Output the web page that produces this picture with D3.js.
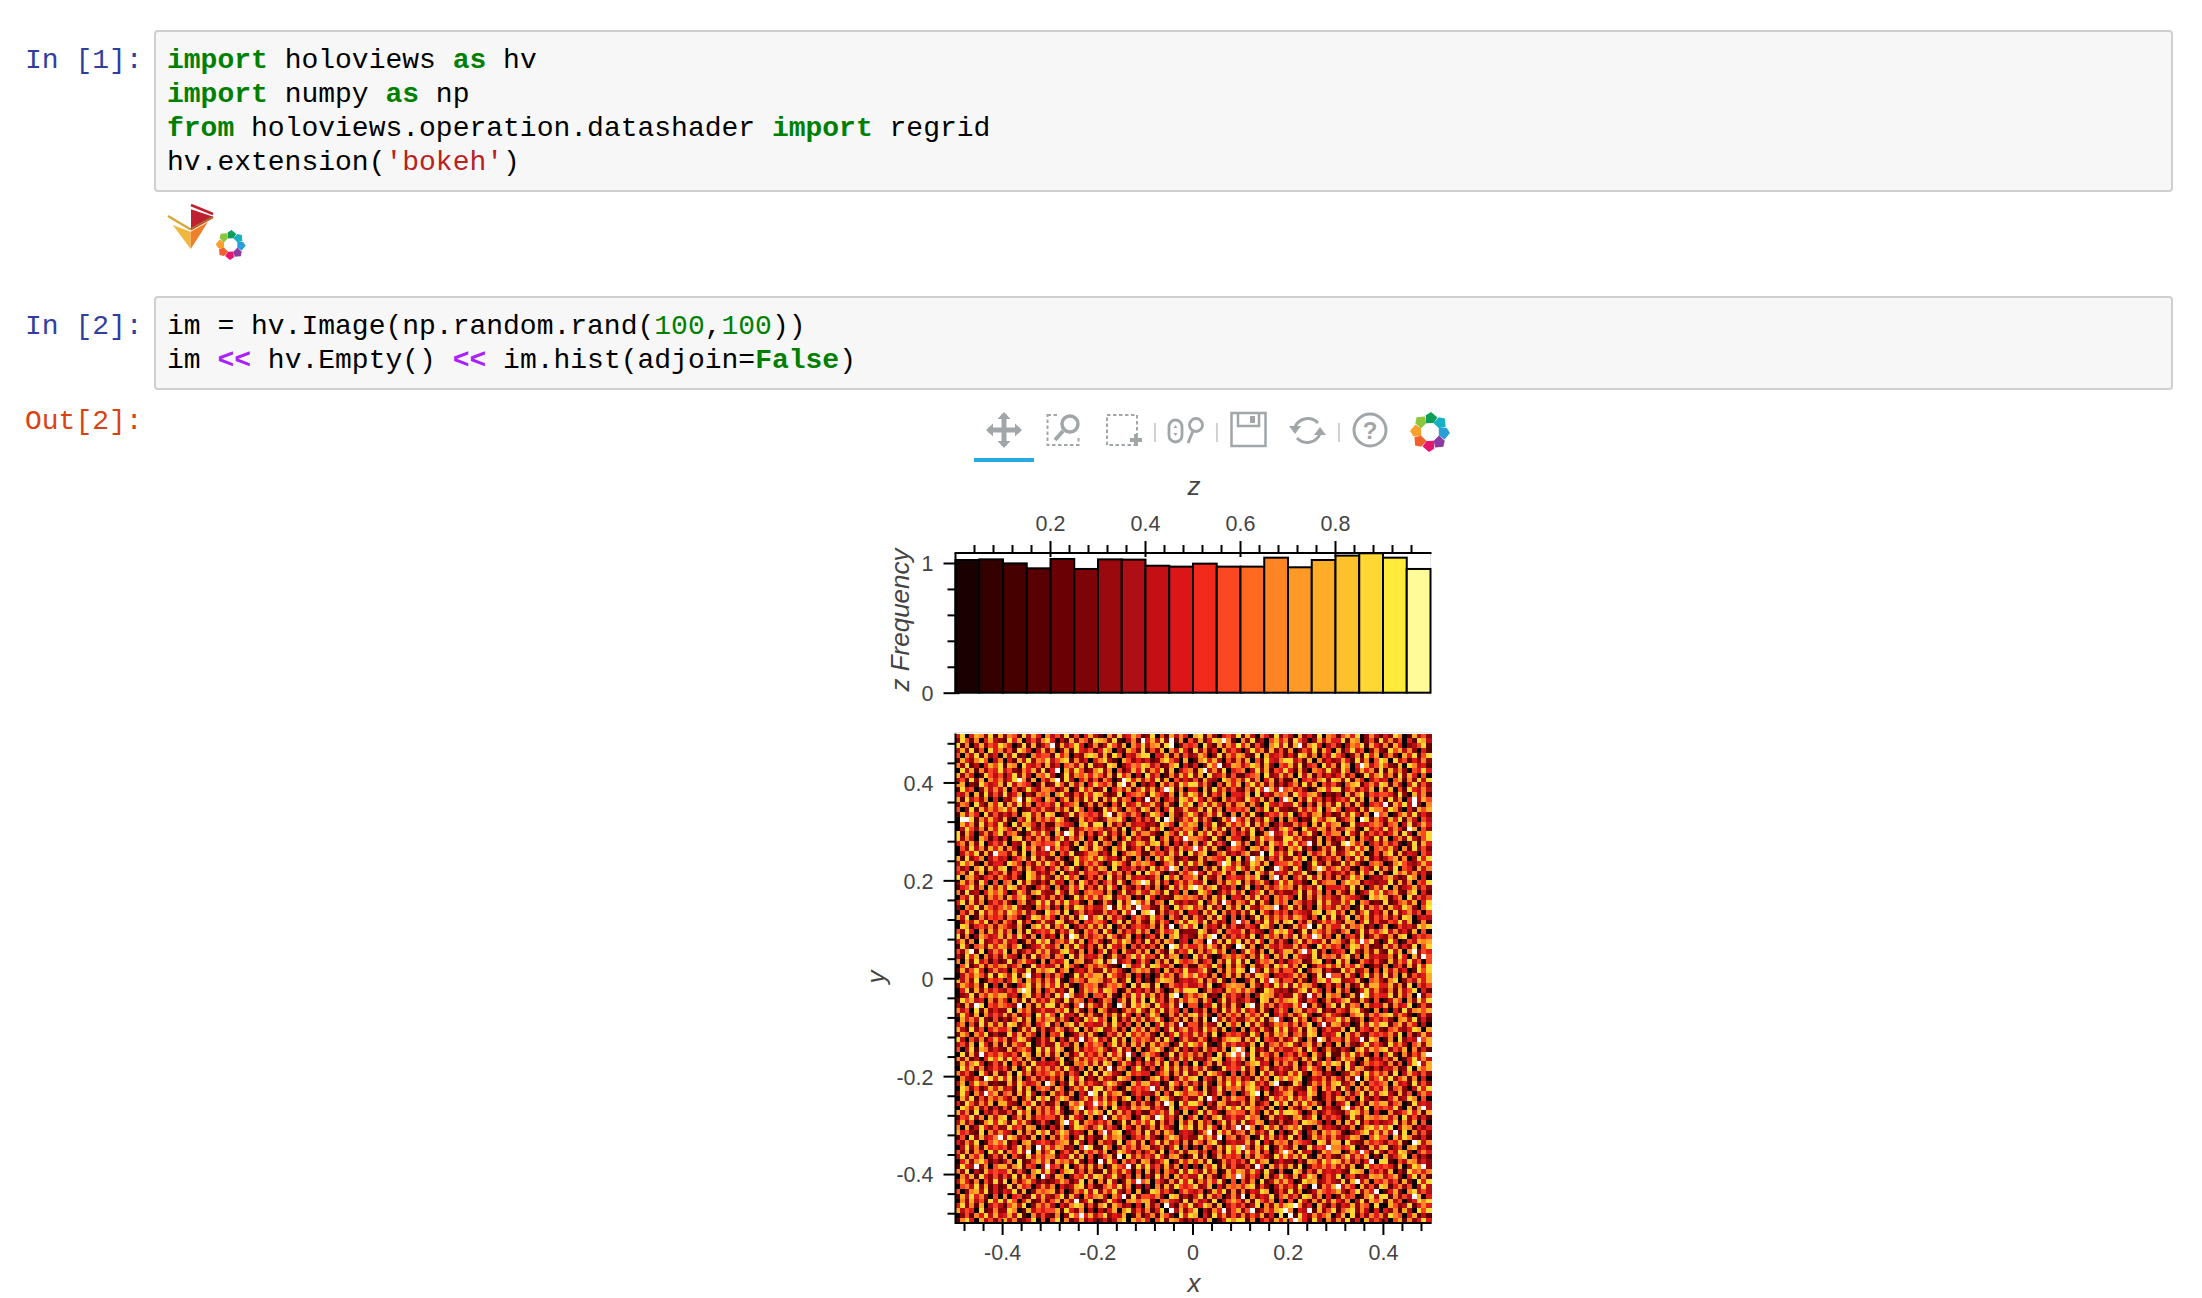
<!DOCTYPE html>
<html>
<head>
<meta charset="utf-8">
<script src="https://cdn.jsdelivr.net/npm/d3@7"></script>
<style>
html,body{margin:0;padding:0;background:#fff;}
svg{display:block;position:absolute;left:0;top:0;}
.code{font-family:"Liberation Mono",monospace;font-size:28px;white-space:pre;}
.tick-label,.axis text{font-family:"Liberation Sans",Arial,sans-serif;font-size:21.5px;fill:#444;}
.ax-label{font-family:"Liberation Sans",Arial,sans-serif;font-style:italic;font-size:26px;fill:#444;}
</style>
</head>
<body>
<svg id="c" width="2202" height="1298" viewBox="0 0 2202 1298"></svg>
<script>
// ---------- notebook text ----------
const promptLabels = [["In [1]:", "#303F9F", 68], ["In [2]:", "#303F9F", 334], ["Out[2]:", "#D84315", 429]];
const cell1Lines = [
  [["import","k"],[" holoviews ",""],["as","k"],[" hv",""]],
  [["import","k"],[" numpy ",""],["as","k"],[" np",""]],
  [["from","k"],[" holoviews.operation.datashader ",""],["import","k"],[" regrid",""]],
  [["hv.extension(",""],["'bokeh'","s"],[")",""]]
];
const cell2Lines = [
  [["im = hv.Image(np.random.rand(",""],["100","n"],[",",""],["100","n"],["))",""]],
  [["im ",""],["<<","o"],[" hv.Empty() ",""],["<<","o"],[" im.hist(adjoin=",""],["False","k"],[")",""]]
];

// ---------- histogram ----------
const histCounts = [1.023,1.028,0.997,0.959,1.031,0.954,1.028,1.026,0.979,0.972,0.995,0.972,0.972,1.041,0.967,1.023,1.057,1.075,1.041,0.954];
const histEdges = d3.range(21).map(i => i / 20);
const histColors = ["#1b0000","#340000","#470000","#590002","#6b0004","#7e0306","#9a090d","#ae0f14","#c41014","#dc1518","#f12a1c","#fb4722","#ff6a20","#ff8524","#ff9a26","#ffad27","#ffc12b","#ffd732","#ffeb38","#fffb99"];
const zMajorTicks = [0.2,0.4,0.6,0.8];
const zMinorTicks = [0.04,0.08,0.12,0.16,0.24,0.28,0.32,0.36,0.44,0.48,0.52,0.56,0.64,0.68,0.72,0.76,0.84,0.88,0.92,0.96];
const freqMajorTicks = [0,1];
const freqMinorTicks = [0.2,0.4,0.6,0.8];
const xyMajorTicks = [-0.4,-0.2,0,0.2,0.4];
const xyMinorTicks = [-0.48,-0.44,-0.36,-0.32,-0.28,-0.24,-0.16,-0.12,-0.08,-0.04,0.04,0.08,0.12,0.16,0.24,0.28,0.32,0.36,0.44,0.48];

// ---------- image levels, 0 (black) .. a (white) ----------
// Approximation, typed by hand: white cells sit roughly where the zooms show them;
// the other cells follow the general look and are not a cell-by-cell reading.
const imageLevelColors = ["#0c0000","#5e0000","#8e0608","#b80f13","#e01a18","#fb4722","#ff8524","#ffad27","#ffd732","#ffeb38","#ffffff"];
const imageRows = [
"4804762817 2651837406 3528150473 1062834751 2805173640 7816204538 1730641825 3072418065 1574802631 4286017352",
"2851604732 1847035268 4031726518 762810361a 47382a1605 271487a610 6281305746 1853027364 4817602518 3625041873",
"8160372548 6402817135 a173584026 1385270648 36718a0254 5083172649 4715206838 17a2684035 2036581742 6174023581",
"3728150846 2518640372 6027184351 4860317528 1527063841 8261407353 0384617251 6025381740 7148350262 1857362041",
"5063817240 7381206455 1846032787 2718504368 8043716152 3750281647 6218073451 4187260538 5302618470 3620748158",
"1742685036 0417382658 3578162404 6831075242 4126853070 1684730526 2705184368 8351706242 3741826059 7083514262",
"6281304758 1760843517 2405637182 3187024658 7351268041 40285a1376 3586172054 7281450836 18604a7358 5217086341",
"0837162548 3521647281 4a07385126 8260513748 2648170356 17a3628045 6038271548 4172065383 2850374618 1736205484",
"7264018535 1482730658 3018265747 5271846030 8350162748 2708346151 1456082373 6083715242 4725018368 3618274050",
"3518270646 248a617053 7a18304625 16402a8473 6381705242 5173208646 3826047151 1704536828 7281640353 4057162838",
"6702185347 1836540271 2851736048 54618a2703 1407362858 8362051747 0583726141 4618270535 2057814638 7163048252",
"1845027363 7051384266 5137028461 2804637158 3725a81604 4071836252 16284a73a5 6352017848 8146253707 2705184363",
"4360718252 8247031656 0683152748 7312804565 1854260738 6281537044 3708142656 1854673021 3072681545 5418207361",
"7183526040 326a185407 5047162838 1738265041 a260351874 8416207353 285371604a 7062835141 4538270616 182604a375",
"2650831748 1738260545 3814570261 6205183473 4731620858 0583741626 7162084353 3840517262 8261730454 a17483a206",
"5028173646 8470125363 2637185040 1847306528 6150482373 3718260545 4605381722 1273648058 5034172866 3862041757",
"1736408252 4250783618 7013826545 28a1753640 3864072158 5147382060 6281035474 8035267141 27384160a5 6015738242",
"0aa8163742 7105382646 4862017353 1376840252 5280a71364 82630174a5 3715284060 6402185378 13570a8264 2748163053",
"0746182538 3082764151 1654307828 8072516344 2318640757 6053812746 4817360252 2635071846 7018243565 1560382474",
"0385261748 6417083252 3801724656 5236180473 1748025366 4062738151 7381504268 5108437626 2476108353 83641a7052",
"8174036258 2561037484 073a826151 4825160736 6310752848 1748263053 528016a347 3715820646 6084172535 2471830658",
"8263075141 4078152636 1582637040 7316048252 28047153a6 6531820744 0173856228 8462317051 3517064282 7046283158",
"4617280353 7032816545 5824170638 1650382476 3782604151 71482530a6 2603718548 4835a17062 18a7460352 6351028174",
"0528361747 163084725a 3745108628 6207481351 8150362745 a482710365 3076258141 7581402638 1263847056 4730618252",
"03648172a5 5271806343 7053812466 2418036751 1645273808 3680157242 5712a08463 8140635727 2368470151 6817243053",
"7182460353 4035718262 1620384574 8534172060 5073861241 1726543808 04a6815372 2748061353 6052837141 3571602848",
"3857106244 1864052738 5271083646 3028641757 6401572838 472015a836 1386270455 7450283161 2837410565 0168532474",
"5240681737 8036172451 4715820363 7608143525 18364a7052 3062718548 5274801a63 184026a735 7351064282 6280541736",
"4618270353 7153086242 6081427355 2473615080 8572031646 a417358260 1608527343 7348106252 3526184707 1085736241",
"8067314526 4251086373 1738460252 6082517344 2360847155 7183260454 3758106a26 0462837151 6148570232 5731286040",
"2736184050 5608273141 7340618525 146283057a 8271504636 4380162758 1625730484 7341082566 0586714323 3817260548",
"1458260737 3872510464 0613748252 7284063151 5160283748 a736814250 2804163575 6173528044 4528170363 8061347252",
"6182304757 4027516832 2841730565 5160382474 3752814060 1864025373 7035816242 2481736050 6317024858 3572168041",
"0538271646 1746830252 6250183747 3781546020 8403217656 5261738044 1738250646 4081627353 2754310868 7146082535",
"4817260353 6205713848 2738451060 1630826a74 7156083242 380472a516 5281730646 0652418373 3748065121 8125637048",
"2064817535 7583120646 1406287353 36a18472a5 5217308468 4618250737 0832576a14 8261407353 7350182646 1743862059",
"0527183646 3864725108 5718036242 2635184a07 8a16253704 4173806252 6280741535 1543278068 3607158242 7182463505",
"7380162545 1652038747 4062718a36 8173520464 2845063171 6317284050 5028173646 3764150828 1480637253 6251870343",
"0263748151 6418250373 2871360546 5304817262 1726405838 738162405a 4605283717 8052713646 3176048252 2548370161",
"0871453626 5327106848 1648025373 7280361454 36172a0584 8063417252 2541873060 1735a08264 4826571303 7015342868",
"5284061737 3607182454 7153820646 1840625373 6037458122 2861370544 7153204868 4028175363 1570382646 8362417050",
"8160275347 2738416052 4071a82635 6285137040 3517068242 1748a06253 5280374616 38164a7250 7045281363 2617803545",
"4716082353 7340162858 1563827046 3027486151 8261750340 650a271848 1738406252 0582643717 63174a5820 2840153767",
"1830562747 6258013474 3607284151 7184360525 25170a8364 463851720a 8160274353 3725108464 5048736121 7361428058",
"527a180364 8061352747 2378416050 4815073262 7063182548 1625847030 3851607247 726a481503 4508316272 183706a254",
"3184706252 7430618256 1650827343 6027315848 4518267030 8372015646 5162840737 0743281656 2681507343 36184072a5",
"6072835141 2815743060 5348067126 817a245036 3062718545 7145062838 2803657141 4561278030 8370164252 1726483505",
"0581372646 7246018353 3718520464 65210a7348 2874360151 1653840727 4072361858 3618025474 7264850131 6035172848",
"1725840363 4063281757 8157034262 2836410575 6140725383 3582061748 70a4183625 5280367141 1847236050 7362401858",
"0364752818 63817a2405 2640183757 7185326040 3027461585 8451603727 1628750343 47360281a5 5173048262 8260715347",
"7362801545 1485073626 3810465277 6247138050 2058761343 4716382050 037184a625 5162037848 8234710563 1680253747",
"2753618040 6104582737 4827103656 1365740828 7180264353 3528014676 6073152848 2847630151 5061382774 4726180535",
"0481726353 2537a81604 6241803757 3875016242 5163027488 8026341757 4750186323 1368274050 7250148363 2617358041",
"0238164757 7340682515 184a723605 5271063848 372518a046 4681207353 1503876242 2841a36075 60271a8354 4817360a25",
"1857340626 4062817353 7318265040 2650471838 0835162747 6174038252 3520871646 7831540262 4682173050 1375062848",
"3172a80546 542a061738 816305a274 2730a61858 6184372a05 5043816272 08a1736254 374a162058 1826507343 7163480252",
"6350817242 2807461353 3648172050 7512036484 1738264050 4260518373 8351720464 0672548131 5427831060 3041826757",
"2841706353 7261350848 5083417262 1637284050 4850162737 8372051646 1746280353 6258301474 3105782646 7836410252",
"0746382151 3158270646 7263041858 4608152737 2584036171 6180a37252 2573816a40 1836047255 8471260353 5206738141",
"4605182737 2871360458 1506827343 3728415060 7048362a15 5163280747 0827413656 3615804a27 6240173858 8157264030",
"7318250464 4602738151 3751480626 8236150747 1640382573 5284617030 6052731848 2471860353 3708154262 1563248707",
"2750648131 1837264050 5480136272 0153728464 6207148353 7361802545 3184062757 1562870434 8073621545 4628051373",
"8305261474 6148730252 704163a258 3518270646 5271840363 2640315787 1738054262 483061a725 52734a1860 1608243a57",
"3527084161 7164380252 2835170646 5048261737 1736502848 6481027353 4270815636 8315726040 7062148353 1846305727",
"5038176242 1725640838 3860172545 7413825060 2685037141 417352608a 6082417353 3571840262 1420683757 8253706141",
"08172a3546 4351860727 2706148353 618472a305 7530281646 36140827a5 a381752604 5264073181 1748362050 482061537a",
"6271304858 3846172050 1580273646 4627518030 8164052737 2315870464 7083261545 6417382050 3856107242 5270148363",
"1736840252 7052618343 4281065737 2860374151 5372816040 8046172353 1578340626 3702614858 7183026454 2615048a37",
"0847261353 5170382646 3628415070 72a1650483 1504837262 6372018454 8260471353 2714853060 5083762141 4361280757",
"6352084171 2708361545 7461530828 1863207454 4035716282 3718642050 5160837242 7482065131 0237518464 6180374252",
"063251a848 4817036252 5260748131 7341865020 1682503747 8053172646 2417360858 5780143626 4162a07358 3825716040",
"3704856121 172853460a 6041827353 2586310747 7340185262 5172063848 4683527a10 1850264737 8236071545 6073418252",
"0862513747 3418270565 1750364828 8263017454 5a36172048 4071382656 2785140363 6321850747 1840627353 7156203848",
"284063a571 5617283040 73516042a8 1846720353 3270518646 6481372050 258a071346 7143860252 4062581737 8317250464",
"0738152646 4260371858 1586204737 3725168040 6048731252 281a406375 5173028464 8364710252 7625083141 1472386050",
"4185263707 7320648151 260175834a 5847031626 3162a70848 8504176232 6271350848 1738462050 3480261757 7256018343",
"0863725141 5174082636 382057a146 1608342757 7253180464 4071263858 2864517030 6315708242 17a3628054 54820716a3",
"7361804252 2518470636 4730162858 6082735141 1546382070 3827410565 5163072848 8740261353 2158736040 0623584717",
"1548260737 8036172545 5271843060 3a17465028 62a8351704 7041682353 3856017242 1672480535 4028317656 7360825141",
"3725016848 6184730252 027a481653 5360281747 4816250737 1735048262 8247603151 2518764030 6073815242 3481627050",
"6071384252 2845176030 4160387525 8253074161 3617420858 173840625a 2a60384715 7581206343 1426037858 5803761424",
"7452180636 4307162858 1586243070 5a37802461 8261750343 036a184725 6173528040 2840361757 5102468373 73a1806252",
"150827346a 3862417050 6275038141 1846720353 7310586242 28473a0561 4601837252 8150274636 3247610585 5073862141",
"4263801575 8130672454 2567183040 6341805727 0482735161 7516820343 3728041656 1654308727 7083216454 254710a836",
"0382617454 5148260a37 4762305a81 1850374626 7236148050 3064172858 a517380264 27018354a6 6458021737 8135067242",
"5271640838 16483a0725 8035271646 3702864151 4618053727 7250361848 284715036a 6183402757 70264a5183 1538720464",
"3816470252 7052183646 6143827050 2571a08363 5384167202 8160273545 0627531848 4738106252 1583647020 7246805131",
"0472685131 3608125747 1756382040 a284063517 6135802747 4728016353 5183670242 2041763858 7362514a08 8105376242",
"1843a26057 726815403a 4518036272 602754a183 8351726040 3064817252 251a407363 7180254646 3627018454 54170386a2",
"6280317454 4715206838 3047825161 1826374050 7150642838 5283601747 6374182050 0861527343 4218760535 2703185646",
"0637184252 52817360a4 1760254838 7248315060 4182607353 381620475a 6253071484 2714860353 8045132767 3572048161",
"3741605282 8062574131 2475138060 61830274a5 7053162848 1637482050 5260813747 4018672353 2817a36054 6351720848",
"0563827141 2817450363 6042378151 1574826030 3061728545 8237041656 4781520363 52830a1647 a364072518 7146250383",
"5026738141 4381702656 7150264838 2648315070 1873520464 3502748161 6143870252 8260137545 73158264a0 1472068353",
"1738462050 6045128373 2581730646 73064a1825 5462087131 4817350262 a062438157 3518726040 2745016838 816253a704",
"0627351848 3850471262 57163a2480 1384206757 7205643181 6341802575 2718536040 5084162737 4260381757 1735024868",
"4826170353 1573802646 3042687151 6817523040 7250a31648 2486170353 5138062747 8a62407315 1437265080 0752381464",
"7354081262 2860173545 5718426030 3147068252 61480a3725 803164a257 25a136478a 6043a17258 1578263040 4261730858",
"0251648373 4738106252 160285a473 5824370161 3617520848 7041836252 6253714080 a184263570 3708152646 2865047131",
"1684073525 7361248050 5806137242 2413680757 4058276313 3527014868 8160352747 5a74183062 6281407353 3057162484"
];

const svg = d3.select("#c");
const bokehPalette = ["#0e9e5b","#17b0c4","#2a9ed8","#8e3aa0","#e5176f","#f2602b","#f9a02d","#8cc63f"];

// ---------- notebook cells ----------
const codeColors = {k:"#008000", s:"#BA2121", n:"#008000", o:"#AA22FF", "":"#000"};
function cell(top, bottom, lines, firstBase){
  svg.append("rect").attr("x",155).attr("y",top).attr("width",2017).attr("height",bottom-top)
    .attr("rx",3).attr("fill","#f7f7f7").attr("stroke","#cfcfcf").attr("stroke-width",2);
  lines.forEach((ln,i)=>{
    const t = svg.append("text").attr("class","code").attr("x",167).attr("y",firstBase+i*34).attr("xml:space","preserve");
    ln.forEach(([s,c])=>{
      t.append("tspan").text(s).attr("fill",codeColors[c])
       .attr("font-weight",(c==="k"||c==="o")?"bold":"normal");
    });
  });
}
cell(31,191,cell1Lines,68);
cell(297,389,cell2Lines,334);
promptLabels.forEach(([s,c,y])=>{
  svg.append("text").attr("class","code").attr("x",25).attr("y",y).attr("fill",c).text(s);
});

// ---------- logos ----------
function ring(cx,cy,R){
  const g = svg.append("g").attr("transform",`translate(${cx},${cy})`);
  const deg = Math.PI/180;
  const petal = d3.lineRadial().curve(d3.curveLinearClosed);
  bokehPalette.forEach((c,i)=>{
    const a=i*45*deg;
    g.append("path").attr("fill",c).attr("d",petal([
      [a-24*deg,R*0.48],[a-14*deg,R*0.86],[a+3*deg,R],[a+27*deg,R*0.82],[a+22*deg,R*0.48]
    ]));
  });
}
const bokeh = svg.append("g");
bokeh.append("path").attr("d","M172.7,225L190.7,231.7L190.7,249Z").attr("fill","#f1b83f");
bokeh.append("path").attr("d","M190.7,231.7L208,222L190.7,249Z").attr("fill","#ef7f29");
bokeh.append("path").attr("d","M191,209.3L213.3,216.7L191,228.3Z").attr("fill","#bd2131");
bokeh.append("path").attr("d","M168,216L190.7,229.5").attr("stroke","#d9a63a").attr("stroke-width",2.5).attr("fill","none");
bokeh.append("path").attr("d","M190.7,229.5L213,217").attr("stroke","#b5652e").attr("stroke-width",2.5).attr("fill","none");
bokeh.append("path").attr("d","M191,205L213,214").attr("stroke","#c0202f").attr("stroke-width",2.5).attr("fill","none");
ring(230.7,245,15);

// ---------- toolbar ----------
const iconColor = "#a1a6a9";
const tb = svg.append("g").attr("fill","none").attr("stroke",iconColor);
tb.append("path").attr("d","M1004,414V446M988,430H1020").attr("stroke-width",5);
tb.append("path").attr("stroke","none").attr("fill",iconColor)
  .attr("d","M1004,412l-6.5,7h13ZM1004,448l-6.5,-7h13ZM986,430l7,-6.5v13ZM1022,430l-7,-6.5v13Z");
svg.append("rect").attr("x",974).attr("y",458).attr("width",60).attr("height",4).attr("fill","#26aae1");
tb.append("rect").attr("x",1047.5).attr("y",415).attr("width",31).attr("height",30).attr("stroke-width",2).attr("stroke-dasharray","3.5 2.5");
tb.append("rect").attr("x",1058).attr("y",412).attr("width",23).attr("height",24).attr("fill","#fff").attr("stroke","none");
tb.append("circle").attr("cx",1070).attr("cy",424).attr("r",8).attr("stroke-width",3.5);
tb.append("path").attr("d","M1063,431L1055,440").attr("stroke-width",4);
tb.append("rect").attr("x",1107).attr("y",415).attr("width",30).attr("height",30).attr("stroke-width",2).attr("stroke-dasharray","3.5 2.5");
tb.append("path").attr("d","M1130,440H1142M1136,434V446").attr("stroke-width",4);
tb.append("path").attr("d","M1155,423V442M1217,423V442M1339,423V442").attr("stroke","#cfd1d2").attr("stroke-width",2);
tb.append("rect").attr("x",1169).attr("y",420).attr("width",13).attr("height",22).attr("rx",6.5).attr("stroke-width",2.8);
tb.append("path").attr("d","M1175.5,425l-2,3h4ZM1175.5,436l-2,-3h4Z").attr("fill",iconColor).attr("stroke","none");
tb.append("circle").attr("cx",1196).attr("cy",425).attr("r",6.5).attr("stroke-width",2.8);
tb.append("path").attr("d","M1193,431L1188,443").attr("stroke-width",3);
tb.append("rect").attr("x",1231.5).attr("y",413).attr("width",34).attr("height",33).attr("stroke-width",2.5);
tb.append("path").attr("d","M1238,413V426H1259V413").attr("stroke-width",2.5);
tb.append("rect").attr("x",1250).attr("y",416).attr("width",5).attr("height",7).attr("fill",iconColor).attr("stroke","none");
tb.append("path").attr("d","M1318,423A14,14 0 0 0 1295,427M1297,438A14,14 0 0 0 1320,434").attr("stroke-width",3);
tb.append("path").attr("d","M1289,426H1301L1295,434ZM1314,435H1326L1320,427Z").attr("fill",iconColor).attr("stroke","none");
tb.append("circle").attr("cx",1370).attr("cy",430).attr("r",16).attr("stroke-width",3);
svg.append("text").attr("x",1370).attr("y",439).attr("text-anchor","middle")
  .attr("font-family","Liberation Sans").attr("font-weight","bold").attr("font-size",24).attr("fill",iconColor).text("?");
ring(1430,432,20);

// ---------- scales ----------
const zScale = d3.scaleLinear().domain([0,1]).range([955.5,1430.5]);
const freqScale = d3.scaleLinear().domain([0,1]).range([692.7,563]);
const xScale = d3.scaleLinear().domain([-0.5,0.5]).range([955,1431]);
const yScale = d3.scaleLinear().domain([-0.5,0.5]).range([1223,733.5]);
const colBand = d3.scaleBand().domain(d3.range(100)).range([955,1431]);
const rowBand = d3.scaleBand().domain(d3.range(100)).range([733.5,1223]);
const levelColor = d3.scaleOrdinal().domain("0123456789a".split("")).range(imageLevelColors);

// ---------- plot outlines ----------
svg.append("rect").attr("x",955.5).attr("y",553).attr("width",475).attr("height",140).attr("fill","#fff").attr("stroke","#e5e5e5");
svg.append("rect").attr("x",955).attr("y",732.5).attr("width",476).attr("height",491).attr("fill","none").attr("stroke","#e5e5e5");

// ---------- histogram bars ----------
svg.append("g").selectAll("rect").data(histCounts).join("rect")
  .attr("x",(d,i)=>zScale(histEdges[i]))
  .attr("width",(d,i)=>zScale(histEdges[i+1])-zScale(histEdges[i]))
  .attr("y",d=>freqScale(d))
  .attr("height",d=>freqScale(0)-freqScale(d))
  .attr("fill",(d,i)=>histColors[i])
  .attr("stroke","#000").attr("stroke-width",2);

// ---------- image ----------
const imgG = svg.append("g").attr("shape-rendering","crispEdges");
imageRows.forEach((row,r)=>{
  const levels = row.replace(/\s+/g,"").split("");
  imgG.append("g").selectAll("rect").data(levels).join("rect")
    .attr("x",(d,c)=>colBand(c)).attr("y",rowBand(r))
    .attr("width",colBand.bandwidth()+0.5).attr("height",rowBand.bandwidth()+0.5)
    .attr("fill",d=>levelColor(d));
});

// ---------- axes ----------
const fmt = d => d===0 ? "0" : String(d);
function drawAxis(axisFn, scale, major, minor, y0, x0, inward, labelDy){
  const g = svg.append("g").attr("class","axis").attr("transform",`translate(${x0},${y0})`);
  const minorG = g.append("g").call(axisFn(scale).tickValues(minor).tickSize(8).tickSizeOuter(0).tickFormat(""));
  minorG.select(".domain").remove();
  const majorG = g.append("g").call(axisFn(scale).tickValues(major).tickSize(12).tickSizeOuter(0).tickPadding(10).tickFormat(fmt));
  majorG.selectAll(".tick line").attr(inward[0],inward[1]);
  majorG.select(".domain").remove();
  g.selectAll(".tick line").attr("stroke","#000").attr("stroke-width",2);
  g.selectAll("text").attr("fill","#444").attr("transform",`translate(0,${labelDy})`);
  return g;
}
drawAxis(d3.axisTop, zScale, zMajorTicks, zMinorTicks, 553, -0.5, ["y1",4], 0);
drawAxis(d3.axisLeft, freqScale, freqMajorTicks, freqMinorTicks, 0, 955.5, ["x1",4], 1);
drawAxis(d3.axisLeft, yScale, xyMajorTicks, xyMinorTicks, 0, 955.5, ["x1",4], 1);
drawAxis(d3.axisBottom, xScale, xyMajorTicks, xyMinorTicks, 1223, -0.5, ["y1",-4], 0);

const spines = svg.append("g").attr("stroke","#000").attr("stroke-width",2).attr("fill","none");
spines.append("line").attr("x1",zScale(0)-1).attr("x2",zScale(1)+1).attr("y1",553).attr("y2",553);
spines.append("line").attr("x1",955.5).attr("x2",955.5).attr("y1",553).attr("y2",693.5);
spines.append("line").attr("x1",955.5).attr("x2",955.5).attr("y1",733.5).attr("y2",1224);
spines.append("line").attr("x1",955).attr("x2",1431).attr("y1",1223).attr("y2",1223);

// ---------- axis titles ----------
svg.append("text").attr("class","ax-label").attr("x",1194).attr("y",495).attr("text-anchor","middle").text("z");
svg.append("text").attr("class","ax-label").attr("x",1194).attr("y",1292).attr("text-anchor","middle").text("x");
svg.append("text").attr("class","ax-label").attr("transform","translate(909,620) rotate(-90)").attr("text-anchor","middle").text("z Frequency");
svg.append("text").attr("class","ax-label").attr("transform","translate(885,977) rotate(-90)").attr("text-anchor","middle").text("y");
</script>
</body>
</html>
